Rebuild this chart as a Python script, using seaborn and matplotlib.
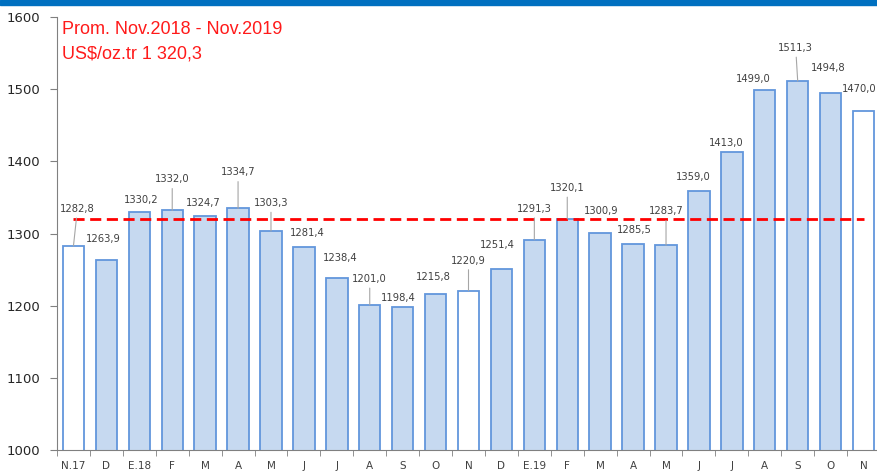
import matplotlib
matplotlib.use("Agg")
import matplotlib.pyplot as plt
import matplotlib.patches as mpatches
import pandas as pd
import seaborn as sns

# monthly gold price, US$/oz.tr
months = ["N.17", "D", "E.18", "F", "M", "A", "M", "J", "J", "A", "S", "O", "N",
          "D", "E.19", "F", "M", "A", "M", "J", "J", "A", "S", "O", "N"]
prices = [1282.8, 1263.9, 1330.2, 1332.0, 1324.7, 1334.7, 1303.3, 1281.4, 1238.4,
          1201.0, 1198.4, 1215.8, 1220.9, 1251.4, 1291.3, 1320.1, 1300.9, 1285.5,
          1283.7, 1359.0, 1413.0, 1499.0, 1511.3, 1494.8, 1470.0]
is_november = [True] + [False] * 11 + [True] + [False] * 11 + [True]
average = 1320.3

# label placement (pixels from bar top) and which labels get a leader line
label_offsets = [(4, 37), (-3, 21), (2, 12), (0, 31), (-2, 13), (0, 36), (0, 28),
                 (3, 14), (3, 20), (0, 26), (-4, 9), (-2, 17), (0, 30), (-4, 24),
                 (0, 31), (0, 31), (1, 22), (1, 14), (0, 34), (-6, 14), (-6, 9),
                 (-12, 11), (-2, 33), (-2, 25), (-4, 22)]
leader = [0, 3, 5, 6, 9, 12, 14, 15, 18, 22]

df = pd.DataFrame({"pos": range(len(months)), "price": prices})

fig = plt.figure(figsize=(8.77, 4.74), dpi=100)
ax = fig.add_axes([57 / 877, 24 / 474, 823 / 877, 433 / 474])

sns.barplot(data=df, x="pos", y="price", color="#C6D9F0", width=0.65,
            saturation=1, ax=ax)
for patch, nov in zip(ax.patches, is_november):
    patch.set_facecolor("white" if nov else "#C6D9F0")
    patch.set_edgecolor("#6296DC")
    patch.set_linewidth(1.3)

# average line
ax.hlines(average, 0, len(months) - 1, colors="#FF0000", linestyles=(0, (4, 2)),
          linewidth=2.0, zorder=3)

for i, v in enumerate(prices):
    dx, dy = label_offsets[i]
    txt = f"{v:.1f}".replace(".", ",")
    props = None
    if i in leader:
        props = dict(arrowstyle="-", color="#A6A6A6", lw=0.8, shrinkA=1, shrinkB=0)
    ax.annotate(txt, xy=(i, v), xytext=(dx, dy), textcoords="offset pixels",
                ha="center", va="center", fontsize=7.2, color="#404040",
                arrowprops=props, zorder=4)

ax.set_ylim(1000, 1600)
ax.set_xlim(-0.5, len(months) - 0.5)
ax.set_yticks(range(1000, 1601, 100))
ax.set_xticks(range(len(months)))
ax.set_xticklabels(months)
ax.set_xticks([i + 0.5 for i in range(-1, len(months))], minor=True)
ax.tick_params(axis="x", which="major", length=0, labelsize=7.5, pad=8,
               labelcolor="#404040")
ax.tick_params(axis="x", which="minor", length=4, color="#808080")
ax.tick_params(axis="y", length=5, labelsize=9.5, pad=7, color="#808080",
               labelcolor="#262626")
ax.set_xlabel("")
ax.set_ylabel("")
for s in ["top", "right"]:
    ax.spines[s].set_visible(False)
for s in ["left", "bottom"]:
    ax.spines[s].set_color("#808080")

fig.text(62 / 877, 1 - 29 / 474, "Prom. Nov.2018 - Nov.2019", fontsize=13,
         family="Liberation Sans", color="#FF1A1A", va="center", ha="left")
fig.text(62 / 877, 1 - 54 / 474, "US$/oz.tr 1 320,3", fontsize=13,
         family="Liberation Sans", color="#FF1A1A", va="center", ha="left")

# blue band across the top
fig.patches.append(mpatches.Rectangle((0, 1 - 5 / 474), 1, 5 / 474,
                                      transform=fig.transFigure,
                                      color="#0070C0", zorder=0))

fig.savefig("out.png", dpi=100)
